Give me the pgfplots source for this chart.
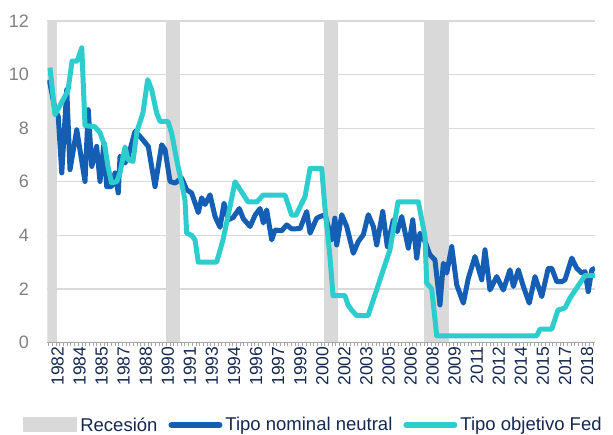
\documentclass[border=0pt]{standalone}
\usepackage{pgfplots}
\pgfplotsset{compat=1.18}
\usepackage{fontspec}
\setmainfont{Liberation Sans}
\definecolor{fedblue}{RGB}{20,95,180}
\definecolor{fedaqua}{RGB}{45,204,205}
\definecolor{recgray}{RGB}{217,217,217}
\definecolor{gridgray}{RGB}{217,217,217}
\definecolor{tickgray}{RGB}{166,166,166}
\definecolor{labgray}{RGB}{128,128,128}
\definecolor{navy}{RGB}{20,40,80}
\begin{document}
\begin{tikzpicture}
\useasboundingbox (0,0) rectangle (613pt,435pt);
\begin{axis}[
  at={(47.5pt,92.5pt)}, anchor=south west,
  scale only axis, width=547.5pt, height=321.5pt,
  xmin=1982.41, xmax=2019.63, ymin=0, ymax=12,
  axis lines*=left,
  y axis line style={draw=none},
  x axis line style={draw=tickgray, line width=1pt},
  ytick={0,2,...,12},
  ymajorgrids, grid style={draw=gridgray, line width=1.2pt},
  ytick style={draw=none},
  xtick={1982.75,1984.25,...,2018.75},
  xticklabels={1982,1984,1985,1987,1988,1990,1991,1993,1994,1996,1997,1999,2000,2002,2003,2005,2006,2008,2009,2011,2012,2014,2015,2017,2018},
  minor xtick={1982.5,1982.75,...,2019.5},
  tick align=outside,
  major tick length=4pt, minor tick length=4pt,
  xtick style={draw=tickgray, line width=0.8pt},
  minor tick style={draw=tickgray, line width=0.8pt},
  /pgf/number format/assume math mode=true,
  yticklabel style={font=\fontsize{18}{20}\selectfont, text=labgray, inner sep=0pt, anchor=east, xshift=-14.5pt},
  xticklabel style={font=\fontsize{17.5}{20}\selectfont, text=navy, rotate=90, anchor=east, inner sep=0pt, yshift=-5pt},
  legend columns=3,
  legend style={at={(0.4840,-0.2566)}, anchor=center, draw=none, fill=none, inner sep=0pt,
    font=\fontsize{18.5}{21}\selectfont, text=navy,
    nodes={inner sep=0pt},
    /tikz/every odd column/.append style={column sep=3pt},
    /tikz/every even column/.append style={column sep=11pt}},
  legend cell align=left,
]
% Recession bands
\addplot[fill=recgray, draw=none,
  legend image code/.code={\fill[recgray] (0pt,-7.5pt) rectangle (54pt,7.5pt);}]
  coordinates {(1982.41,12) (1983.04,12)} \closedcycle;
\addlegendentry{Recesión}
\addplot[fill=recgray, draw=none, forget plot] coordinates {(1990.47,12) (1991.42,12)} \closedcycle;
\addplot[fill=recgray, draw=none, forget plot] coordinates {(2001.21,12) (2002.18,12)} \closedcycle;
\addplot[fill=recgray, draw=none, forget plot] coordinates {(2008.00,12) (2009.68,12)} \closedcycle;
% Tipo nominal neutral
\addplot[color=fedblue, line width=5pt, line join=round,
  legend image code/.code={\draw[fedblue, line width=6pt, line cap=round] (3pt,0pt) -- (51pt,0pt);}]
  table {
1982.53 9.81
1982.92 8.69
1983.14 8.44
1983.38 6.33
1983.72 9.44
1983.94 6.45
1984.40 7.94
1984.96 6.01
1985.18 8.69
1985.42 6.57
1985.75 7.32
1985.98 6.01
1986.25 7.45
1986.43 5.82
1986.77 5.82
1987.00 6.33
1987.22 5.58
1987.34 6.95
1987.68 6.70
1987.90 6.95
1988.36 7.88
1988.70 7.69
1989.26 7.32
1989.72 5.82
1990.17 7.38
1990.40 7.20
1990.74 6.01
1991.08 5.95
1991.53 6.14
1991.87 5.70
1992.21 5.58
1992.66 4.85
1992.89 5.40
1993.12 5.15
1993.46 5.51
1993.80 4.70
1994.14 4.30
1994.41 5.20
1994.70 4.58
1995.04 4.67
1995.45 5.00
1995.72 4.62
1996.18 4.33
1996.52 4.75
1996.86 5.00
1997.08 4.46
1997.31 4.95
1997.65 3.83
1997.88 4.20
1998.33 4.17
1998.67 4.39
1999.01 4.24
1999.58 4.25
2000.03 4.89
2000.26 4.08
2000.71 4.64
2000.94 4.70
2001.28 4.77
2001.73 3.83
2001.95 4.64
2002.07 3.64
2002.41 4.77
2002.75 4.33
2003.20 3.33
2003.54 3.77
2003.88 4.02
2004.22 4.77
2004.56 4.33
2004.79 3.64
2005.20 4.89
2005.51 3.58
2005.92 4.58
2006.19 4.14
2006.49 4.70
2006.94 3.52
2007.24 4.58
2007.51 3.15
2007.73 4.08
2008.07 3.77
2008.41 3.27
2008.75 3.08
2009.09 1.40
2009.32 2.96
2009.55 2.59
2009.89 3.58
2010.23 2.15
2010.68 1.47
2011.02 2.40
2011.47 3.21
2011.93 2.34
2012.15 3.46
2012.49 1.96
2012.95 2.46
2013.40 1.96
2013.85 2.71
2014.08 2.09
2014.42 2.71
2014.76 2.09
2015.16 1.47
2015.55 2.46
2016.01 1.71
2016.45 2.77
2016.69 2.77
2017.03 2.27
2017.37 2.27
2017.59 2.34
2018.05 3.15
2018.39 2.77
2018.73 2.59
2018.95 2.65
2019.17 1.90
2019.41 2.71
2019.63 2.77
};
\addlegendentry{Tipo nominal neutral}
% Tipo objetivo Fed
\addplot[color=fedaqua, line width=5pt, line join=round,
  legend image code/.code={\draw[fedaqua, line width=6pt, line cap=round] (3pt,0pt) -- (51pt,0pt);}]
  table {
1982.58 10.26
1982.92 8.50
1983.80 9.40
1984.08 10.50
1984.42 10.50
1984.74 11.00
1984.96 8.10
1985.64 8.05
1985.98 7.83
1986.32 7.30
1986.52 6.57
1986.77 5.96
1987.11 6.00
1987.34 6.33
1987.68 7.30
1987.88 6.82
1988.22 6.76
1988.49 7.88
1988.90 8.57
1989.22 9.81
1989.49 9.44
1989.83 8.57
1990.06 8.25
1990.60 8.25
1990.85 7.82
1991.19 6.82
1991.53 5.95
1991.76 5.30
1991.87 4.08
1992.21 4.00
1992.44 3.83
1992.66 3.00
1993.91 3.00
1994.34 3.83
1994.82 5.08
1995.16 6.00
1996.04 5.25
1996.65 5.25
1997.06 5.50
1998.56 5.50
1999.01 4.75
1999.30 4.75
1999.92 5.45
2000.26 6.50
2001.05 6.50
2001.28 4.97
2001.61 3.21
2001.82 1.75
2002.63 1.75
2002.84 1.40
2003.09 1.21
2003.43 1.00
2004.20 1.00
2005.01 2.34
2005.69 3.46
2006.24 5.25
2007.62 5.25
2008.07 3.96
2008.19 2.22
2008.53 2.00
2008.87 0.25
2015.67 0.25
2015.89 0.50
2016.69 0.50
2017.11 1.21
2017.59 1.29
2017.93 1.66
2018.95 2.50
2019.63 2.50
};
\addlegendentry{Tipo objetivo Fed}
\end{axis}
\end{tikzpicture}
\end{document}
